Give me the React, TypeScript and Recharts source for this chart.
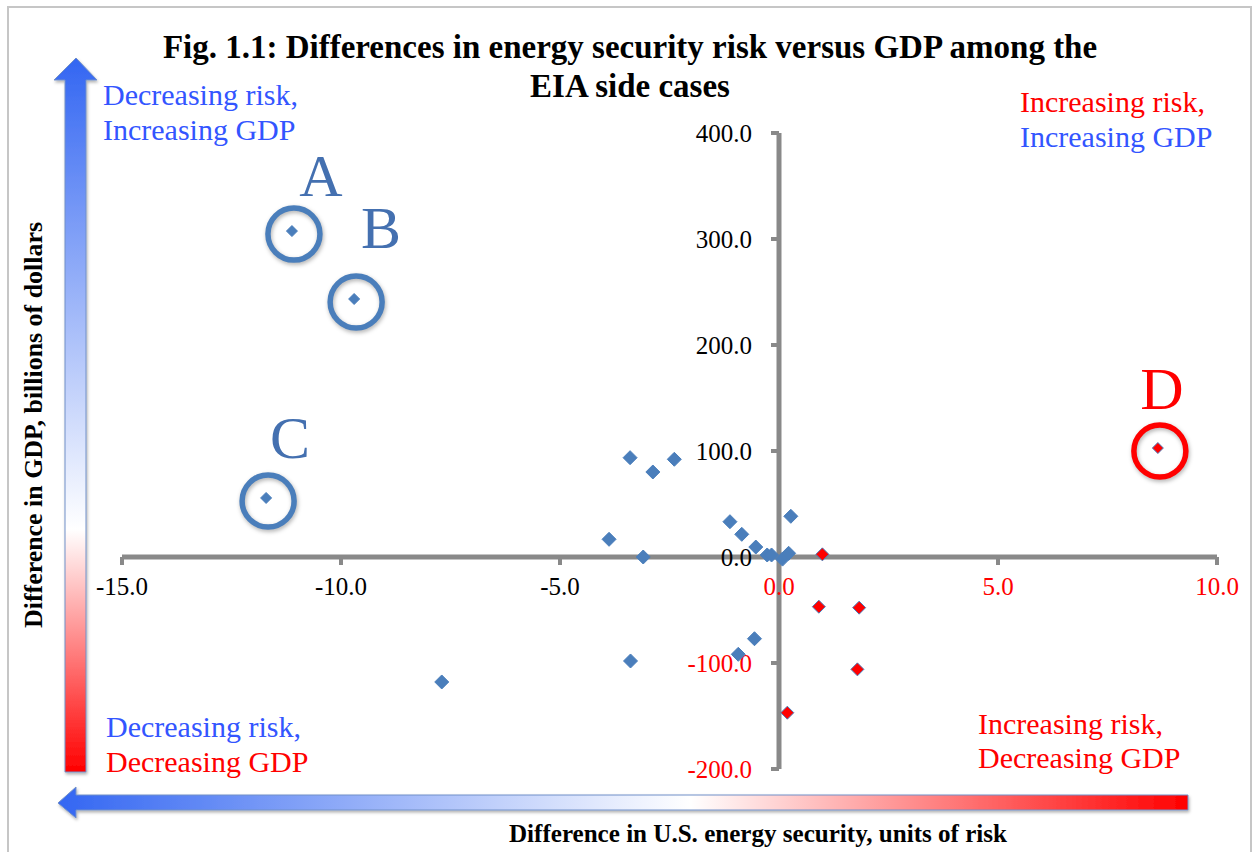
import { ScatterChart, Scatter, XAxis, YAxis, ReferenceLine, ReferenceDot } from 'recharts';

// cases that lower risk (blue) and raise it (red)
const blueX = [-3.4, -2.88, -2.39, -3.88, -3.1, -1.12, -0.85, -0.53, -0.27, -0.17, 0.08, 0.22, 0.27, -7.7, -3.39, -0.93, -0.56];
const blueY = [93.7, 80.2, 92.2, 16.7, 0, 33.3, 21.4, 9.4, 1.9, 1.9, -2, 3.5, 38.4, -117.9, -98.1, -91.8, -77.1];
const redX = [0.99, 0.91, 1.83, 1.79, 0.19];
const redY = [2.5, -46.9, -47.8, -106, -146.9];

// circled cases
const markedNames = ['A', 'B', 'C', 'D'];
const markedX = [-11.12, -9.7, -11.71, 8.65];
const markedY = [307.5, 243.4, 55.7, 102.8];

const xTicks = [-15, -10, -5, 0, 5, 10];
const yTicks = [400, 300, 200, 100, 0, -100, -200];

const BLUE = '#4a7ebb';
const RED = '#ff0000';
const TXT_BLUE = '#3355ff';
const AXIS = '#898989';
const FONT = '"Liberation Serif", "Times New Roman", serif';

const blueData = blueX.map((x, i) => ({ x, y: blueY[i] }));
const redData = redX.map((x, i) => ({ x, y: redY[i] }));
const marked = markedNames.map((name, i) => ({ name, x: markedX[i], y: markedY[i], red: name === 'D' }));

// where each letter sits relative to its point
const letterOffset: Record<string, [number, number]> = {
    A: [29, -35],
    B: [27, -51],
    C: [24, -40],
    D: [4, -39],
};

const diamond = (r: number, fill: string, stroke: string) => (props: any) => {
    const { cx, cy } = props;
    return (
        <polygon
            points={`${cx},${cy - r} ${cx + r},${cy} ${cx},${cy + r} ${cx - r},${cy}`}
            fill={fill}
            stroke={stroke}
            strokeWidth={1}
        />
    );
};

const xTickShape = (v: number) => (props: any) => {
    const { cx, cy } = props;
    return (
        <g>
            <line x1={cx} y1={cy} x2={cx} y2={cy + 8} stroke={AXIS} strokeWidth={4} />
            <text x={cx} y={cy + 38} textAnchor="middle" fontSize={25} fontFamily={FONT} fill={v >= 0 ? RED : '#000'}>
                {v.toFixed(1)}
            </text>
        </g>
    );
};

const yTickShape = (v: number) => (props: any) => {
    const { cx, cy } = props;
    return (
        <g>
            <line x1={cx - 8} y1={cy} x2={cx} y2={cy} stroke={AXIS} strokeWidth={4} />
            <text x={cx - 27} y={cy + 8.5} textAnchor="end" fontSize={25} fontFamily={FONT} fill={v < 0 ? RED : '#000'}>
                {v.toFixed(1)}
            </text>
        </g>
    );
};

const markShape = (m: { name: string; red: boolean }) => (props: any) => {
    const { cx, cy } = props;
    const [dx, dy] = letterOffset[m.name];
    const col = m.red ? RED : BLUE;
    return (
        <g>
            <circle
                cx={cx + 2}
                cy={cy + 3}
                r={26}
                fill="none"
                stroke={col}
                strokeWidth={5.5}
                style={{ filter: 'drop-shadow(1px 2px 2px rgba(0,0,0,0.3))' }}
            />
            <text x={cx + dx} y={cy + dy} textAnchor="middle" fontSize={60} fontFamily={FONT} fill={m.red ? RED : '#4470b0'}>
                {m.name}
            </text>
        </g>
    );
};

const Arrows = () => (
    <svg width={1254} height={852} style={{ position: 'absolute', left: 0, top: 0 }}>
        <defs>
            <linearGradient id="vgrad" x1="0" y1="0" x2="0" y2="1">
                <stop offset="0" stopColor="#3366f2" />
                <stop offset="0.66" stopColor="#ffffff" />
                <stop offset="1" stopColor="#ff0000" />
            </linearGradient>
            <linearGradient id="hgrad" x1="0" y1="0" x2="1" y2="0">
                <stop offset="0" stopColor="#3366f2" />
                <stop offset="0.56" stopColor="#ffffff" />
                <stop offset="1" stopColor="#ff0000" />
            </linearGradient>
            <filter id="shadow" x="-10%" y="-10%" width="130%" height="130%">
                <feDropShadow dx="1" dy="2" stdDeviation="1.5" floodColor="#000" floodOpacity="0.3" />
            </filter>
        </defs>
        <polygon
            points="76,58 97,80 86,80 86,772 65,772 65,80 54,80"
            fill="url(#vgrad)"
            stroke="#7090c8"
            strokeWidth={1}
            filter="url(#shadow)"
        />
        <polygon
            points="58,803 76,787 76,795 1188,795 1188,810 76,810 76,818"
            fill="url(#hgrad)"
            stroke="#7090c8"
            strokeWidth={1}
            filter="url(#shadow)"
        />
    </svg>
);

const Texts = () => (
    <svg width={1254} height={852} style={{ position: 'absolute', left: 0, top: 0 }} fontFamily={FONT}>
        <text x={630} y={58} textAnchor="middle" fontSize={33} fontWeight="bold">
            Fig. 1.1: Differences in energy security risk versus GDP among the
        </text>
        <text x={630} y={97} textAnchor="middle" fontSize={33} fontWeight="bold">
            EIA side cases
        </text>

        <text x={103} y={105} fontSize={30} fill={TXT_BLUE}>Decreasing risk,</text>
        <text x={103} y={140} fontSize={30} fill={TXT_BLUE}>Increasing GDP</text>

        <text x={1020} y={112} fontSize={30} fill={RED}>Increasing risk,</text>
        <text x={1020} y={147} fontSize={30} fill={TXT_BLUE}>Increasing GDP</text>

        <text x={106} y={737} fontSize={30} fill={TXT_BLUE}>Decreasing risk,</text>
        <text x={106} y={772} fontSize={30} fill={RED}>Decreasing GDP</text>

        <text x={978} y={734} fontSize={30} fill={RED}>Increasing risk,</text>
        <text x={978} y={768} fontSize={30} fill={RED}>Decreasing GDP</text>

        <text x={509} y={842} fontSize={25} fontWeight="bold" textLength={498} lengthAdjust="spacingAndGlyphs">
            Difference in U.S. energy security, units of risk
        </text>
        <text
            x={42}
            y={628}
            fontSize={25}
            fontWeight="bold"
            textLength={406}
            lengthAdjust="spacingAndGlyphs"
            transform="rotate(-90 42 628)"
        >
            Difference in GDP, billions of dollars
        </text>
    </svg>
);

export default function App() {
    return (
        <div style={{ position: 'absolute', left: 0, top: 0, width: 1254, height: 852, background: '#fff', overflow: 'hidden' }}>
            <div
                style={{
                    position: 'absolute',
                    left: 7,
                    top: 6,
                    width: 1245,
                    height: 870,
                    border: '2px solid #c6c6c6',
                    boxSizing: 'border-box',
                }}
            />
            <Arrows />
            <ScatterChart
                width={1254}
                height={852}
                margin={{ top: 133, right: 37, bottom: 83, left: 122 }}
                style={{ position: 'absolute', left: 0, top: 0 }}
            >
                <XAxis type="number" dataKey="x" domain={[-15, 10]} hide />
                <YAxis type="number" dataKey="y" domain={[-200, 400]} hide />

                {/* axes crossing at the origin */}
                <ReferenceLine y={0} stroke={AXIS} strokeWidth={5} />
                <ReferenceLine x={0} stroke={AXIS} strokeWidth={5} />

                {xTicks.map(v => (
                    <ReferenceDot key={'xt' + v} x={v} y={0} r={1} shape={xTickShape(v)} />
                ))}
                {yTicks.map(v => (
                    <ReferenceDot key={'yt' + v} x={0} y={v} r={1} shape={yTickShape(v)} />
                ))}

                <Scatter data={blueData} shape={diamond(7, BLUE, BLUE)} isAnimationActive={false} />
                <Scatter data={redData} shape={diamond(6.5, RED, BLUE)} isAnimationActive={false} />
                <Scatter
                    data={marked.filter(m => !m.red)}
                    shape={diamond(5.5, BLUE, BLUE)}
                    isAnimationActive={false}
                />
                <Scatter
                    data={marked.filter(m => m.red)}
                    shape={diamond(5.5, RED, BLUE)}
                    isAnimationActive={false}
                />

                {marked.map(m => (
                    <ReferenceDot key={m.name} x={m.x} y={m.y} r={1} shape={markShape(m)} />
                ))}
            </ScatterChart>
            <Texts />
        </div>
    );
}
